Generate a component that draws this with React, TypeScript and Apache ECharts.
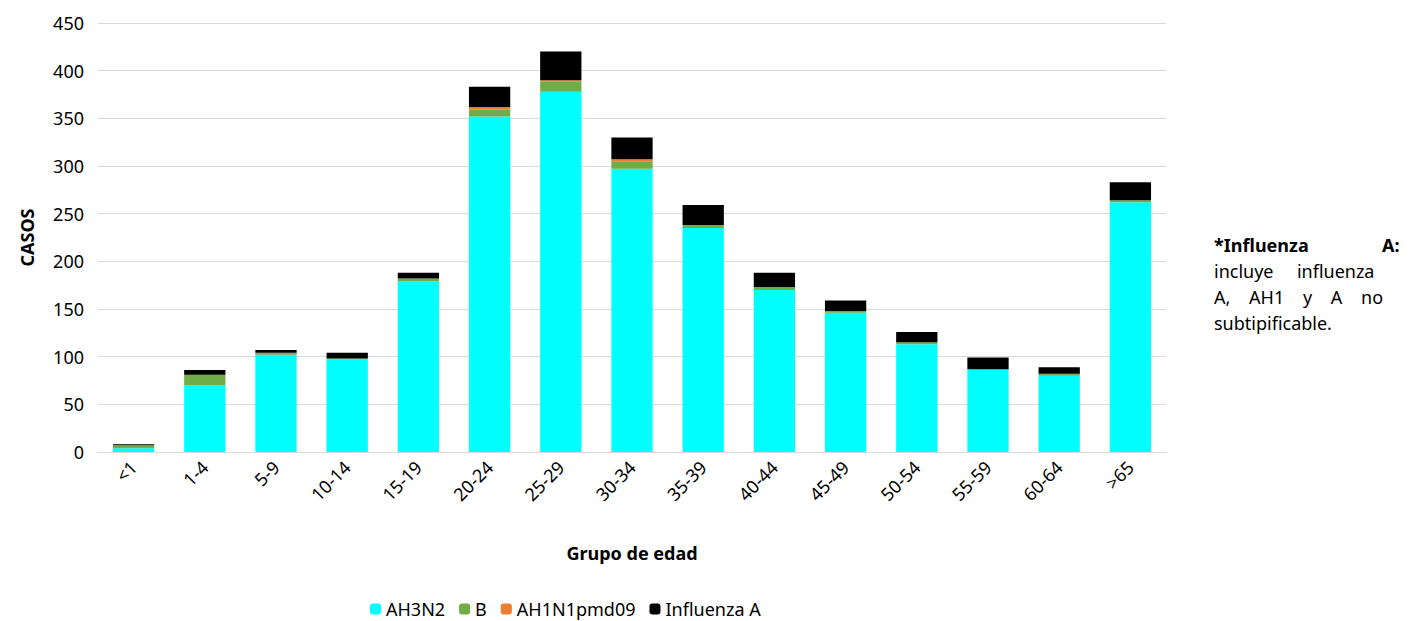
import React, { useRef, useEffect } from 'react'
import * as echarts from 'echarts'

const categories = ['<1', '1-4', '5-9', '10-14', '15-19', '20-24', '25-29', '30-34', '35-39', '40-44', '45-49', '50-54', '55-59', '60-64', '>65']
const ah3n2 = [4, 70, 102, 97, 179, 352, 378, 297, 235, 170, 146, 113, 86, 80, 262]
const bSeries = [3, 11, 2, 1, 3, 7, 11, 8, 3, 3, 2, 2, 1, 2, 2]
const ah1n1 = [0, 0, 0, 0, 0, 3, 1, 2, 0, 0, 0, 0, 0, 0, 0]
const influenzaA = [1, 5, 3, 6, 6, 21, 30, 23, 21, 15, 11, 11, 12, 7, 19]

const font = 'Noto Sans'

function App() {
  const chartRef = useRef(null)

  useEffect(() => {
    const chart = echarts.init(chartRef.current, null, { renderer: 'svg' })

    const mk = (name: string, data: number[], color: string) => ({
      name,
      type: 'bar',
      stack: 'total',
      data,
      barWidth: '58%',
      itemStyle: { color },
    })

    const noteStyle = { fontFamily: font, fontSize: 18, fill: '#000' }

    const option = {
      animation: false,
      textStyle: { fontFamily: font },
      grid: { left: 90, right: 238, top: 15, bottom: 169 },
      legend: {
        top: 587,
        left: 357,
        itemWidth: 11,
        itemHeight: 11,
        itemGap: 14,
        textStyle: { fontSize: 18, color: '#000', fontFamily: font },
        data: ['AH3N2', 'B', 'AH1N1pmd09', 'Influenza A'],
      },
      xAxis: {
        type: 'category',
        data: categories,
        name: 'Grupo de edad',
        nameLocation: 'middle',
        nameGap: 92,
        nameTextStyle: { fontSize: 18, fontWeight: 'bold', color: '#000' },
        axisTick: { show: false },
        axisLine: { lineStyle: { color: '#d9d9d9' } },
        axisLabel: { rotate: 45, fontSize: 18, color: '#000', margin: 12 },
      },
      yAxis: {
        type: 'value',
        min: 0,
        max: 450,
        interval: 50,
        name: 'CASOS',
        nameLocation: 'middle',
        nameGap: 62,
        nameTextStyle: { fontSize: 18, fontWeight: 'bold', color: '#000' },
        axisLabel: { fontSize: 18, color: '#000', margin: 14 },
        splitLine: { lineStyle: { color: '#d9d9d9' } },
      },
      graphic: [
        { type: 'text', left: 1206, top: 228, style: { ...noteStyle, text: '*Influenza', fontWeight: 'bold' } },
        { type: 'text', left: 1374, top: 228, style: { ...noteStyle, text: 'A:', fontWeight: 'bold' } },
        { type: 'text', left: 1206, top: 254, style: { ...noteStyle, text: 'incluye     influenza' } },
        { type: 'text', left: 1206, top: 280, style: { ...noteStyle, text: 'A,    AH1    y    A    no' } },
        { type: 'text', left: 1206, top: 306, style: { ...noteStyle, text: 'subtipificable.' } },
      ],
      series: [
        mk('AH3N2', ah3n2, '#00ffff'),
        mk('B', bSeries, '#70ad47'),
        mk('AH1N1pmd09', ah1n1, '#ed7d31'),
        mk('Influenza A', influenzaA, '#000000'),
      ],
    }

    chart.setOption(option)
    return () => {
      chart.dispose()
    }
  }, [])

  return <div ref={chartRef} style={{ width: 1396, height: 613 }}></div>
}

export default App
